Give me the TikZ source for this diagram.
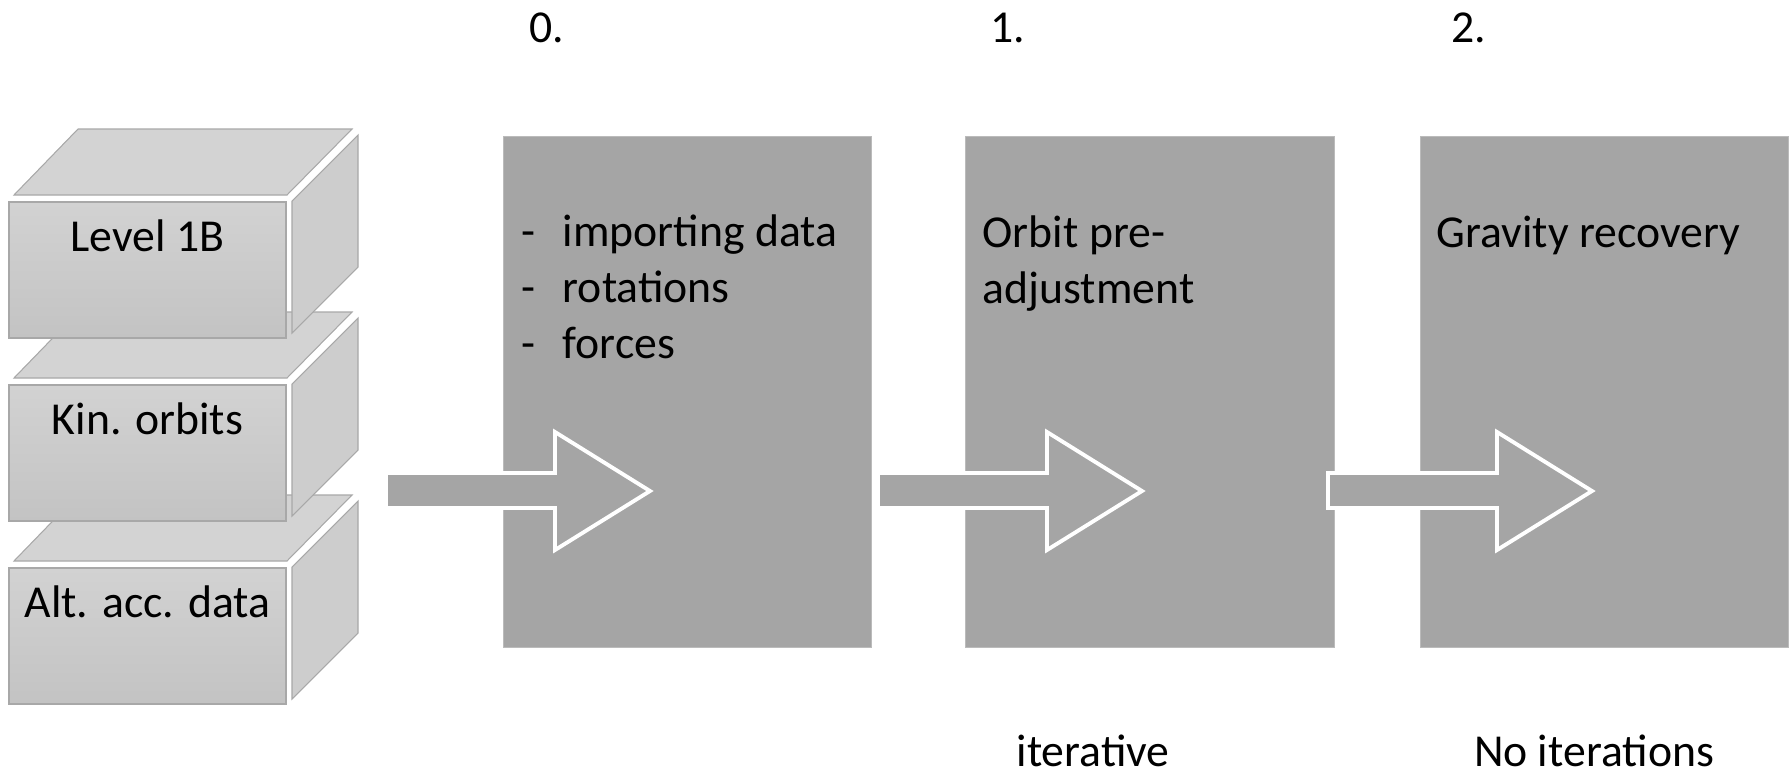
\documentclass[tikz,border=0pt]{standalone}
\usepackage{fontspec}
\setmainfont{Carlito}
\usetikzlibrary{positioning}
\definecolor{stagegray}{HTML}{A5A5A5}
\definecolor{cubetop}{HTML}{D3D3D3}
\definecolor{cubeside}{HTML}{CDCDCD}
\definecolor{cubefronttop}{HTML}{D2D2D2}
\definecolor{cubefrontbot}{HTML}{C3C3C3}
\definecolor{cubeedge}{HTML}{A8A8A8}
\tikzset{
stage/.style={
  fill=stagegray,
  draw=stagegray!75!white,
  line width=0.3pt,
  rectangle,
  minimum width=3.68cm,
  minimum height=5.11cm,
  inner sep=0pt
  },
lbl/.style={font=\fontsize{13}{15.9}\selectfont, inner sep=0pt},
face/.style={draw=cubeedge, line width=0.3pt},
blockarrow/.style={fill=stagegray, draw=white, line width=1.1pt}
}
\begin{document}
\begin{tikzpicture}[x=0.01cm, y=-0.01cm]
\useasboundingbox (0,0) rectangle (1791,775);
\foreach \dy/\name/\txt in {366/c3/Alt. acc. data, 183/c2/Kin. orbits, 0/c1/Level 1B} {
  \begin{scope}[shift={(0,\dy)}]
    \draw[face, fill=cubetop] (14,195) -- (78,129) -- (352,129) -- (287,195) -- cycle;
    \draw[face, fill=cubeside] (292,201) -- (358,135) -- (358,267) -- (292,333) -- cycle;
    \draw[face, top color=cubefronttop, bottom color=cubefrontbot] (9,202) rectangle (286,338);
    \node[lbl, anchor=base] (\name) at (147.5,251) {\txt};
  \end{scope}
}
\node[stage, anchor=north west] (s0) at (503,136) {};
\node[stage, right=0.93cm of s0] (s1) {};
\node[stage, right=0.85cm of s1] (s2) {};
\foreach \x in {386,878,1328}
  \draw[blockarrow] (\x,473) -- (\x+169,473) -- (\x+169,432) -- (\x+264,491)
    -- (\x+169,550) -- (\x+169,508) -- (\x,508) -- cycle;
\node[lbl, anchor=base west, align=left] (t0) at (521,358)
  {\makebox[0.41cm][l]{-}importing data\\ \makebox[0.41cm][l]{-}rotations\\ \makebox[0.41cm][l]{-}forces};
\node[lbl, anchor=base west, align=left] (t1) at (982,303) {Orbit pre-\\adjustment};
\node[lbl, anchor=base west] (t2) at (1436,247) {Gravity recovery};
\node[lbl, anchor=base] (n0) at (547,42) {0.};
\node[lbl, anchor=base] (n1) at (1008,42) {1.};
\node[lbl, anchor=base] (n2) at (1469,42) {2.};
\node[lbl, anchor=base] (i1) at (1093,766) {iterative};
\node[lbl, anchor=base] (i2) at (1594,766) {No iterations};
\end{tikzpicture}
\end{document}
